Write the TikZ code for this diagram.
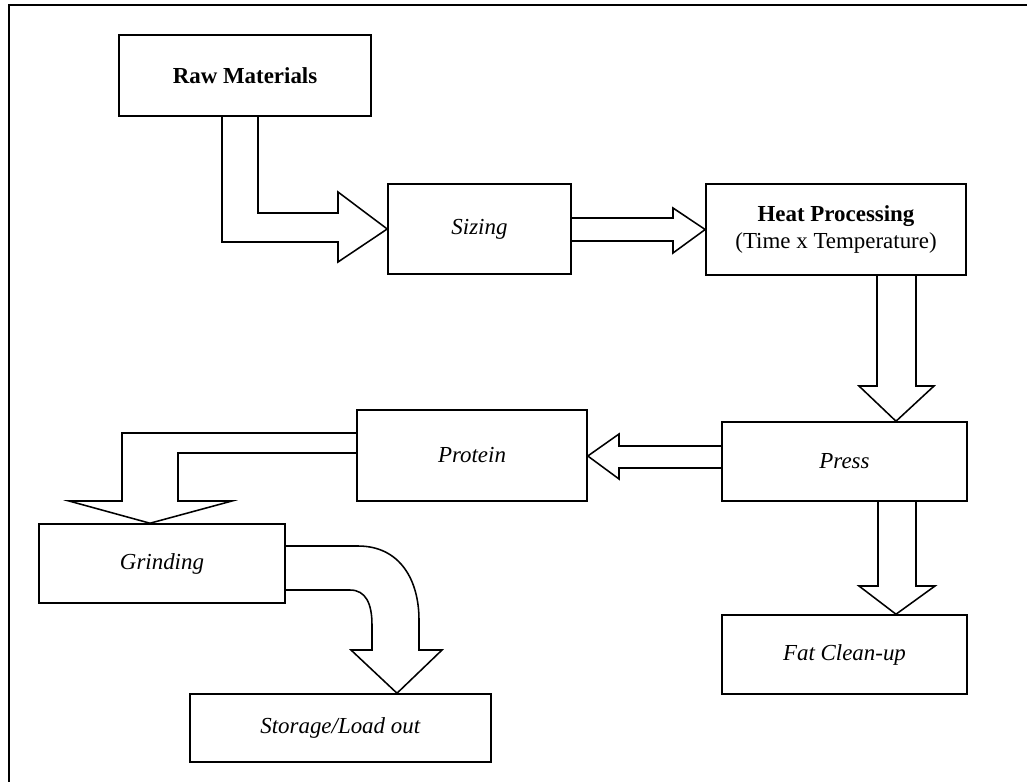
\documentclass[tikz,border=0pt]{standalone}
\usepackage{fontspec}
\setmainfont{Liberation Serif}
\usepackage{tikz}

\tikzset{
  box/.style={draw, line width=1.1pt, align=center, inner sep=0pt,
    font=\fontsize{16.3pt}{19.5pt}\selectfont},
  blockarrow/.style={draw, line width=1.1pt, line join=miter}
}

\begin{document}
\begin{tikzpicture}[x=0.025cm, y=-0.025cm]
  \useasboundingbox (0,0) rectangle (1027,782);
  \draw [line width=1.6pt] (9,782) -- (9,5) -- (1027,5);

  % process steps
  \node[box, minimum width=6.3cm, minimum height=2.025cm] (raw) at (245,75.5) {\textbf{Raw Materials}};
  \node[box, minimum width=4.575cm, minimum height=2.25cm] (sizing) at (479.5,229) {\textit{Sizing}};
  \node[box, minimum width=6.5cm, minimum height=2.275cm] (heat) at (836,229.5) {\textbf{Heat Processing}\\(Time x Temperature)};
  \node[box, minimum width=6.125cm, minimum height=1.975cm] (press) at (844.5,461.5) {\textit{Press}};
  \node[box, minimum width=6.125cm, minimum height=1.975cm] (fat) at (844.5,654.5) {\textit{Fat Clean-up}};
  \node[box, minimum width=5.75cm, minimum height=2.275cm] (protein) at (472,455.5) {\textit{Protein}};
  \node[box, minimum width=6.15cm, minimum height=1.975cm] (grinding) at (162,563.5) {\textit{Grinding}};
  \node[box, minimum width=7.525cm, minimum height=1.7cm] (storage) at (340.5,728) {\textit{Storage/Load out}};

  % block arrows
  \draw [blockarrow] (raw.south -| 222,0) -- (222,242) -- (338,242) -- (338,262)
    -- (sizing.west) -- (338,192) -- (338,213) -- (258,213) -- (raw.south -| 258,0);
  \draw [blockarrow] (sizing.east |- 0,218) -- (673,218) -- (673,208) -- (heat.west)
    -- (673,253) -- (673,241) -- (sizing.east |- 0,241);
  \draw [blockarrow] (heat.south -| 877,0) -- (877,386) -- (859,386) -- (press.north -| 896,0)
    -- (934,386) -- (916,386) -- (heat.south -| 916,0);
  \draw [blockarrow] (press.west |- 0,446) -- (619,446) -- (619,434) -- (protein.east |- 0,456)
    -- (619,479) -- (619,468) -- (press.west |- 0,468);
  \draw [blockarrow] (press.south -| 878,0) -- (878,586) -- (859,586) -- (fat.north -| 896,0)
    -- (935,586) -- (916,586) -- (press.south -| 916,0);
  \draw [blockarrow] (protein.west |- 0,433) -- (122,433) -- (122,501) -- (69,501)
    -- (grinding.north -| 150,0) -- (232,501) -- (178,501) -- (178,453) -- (protein.west |- 0,453);
  \draw [blockarrow] (grinding.east |- 0,546) -- (358,546) .. controls (400,546) and (419,580) .. (419,620)
    -- (419,650) -- (442,650) -- (storage.north -| 397,0) -- (351,650) -- (372,650) -- (372,625)
    .. controls (372,604) and (366,590) .. (350,590) -- (grinding.east |- 0,590);
\end{tikzpicture}
\end{document}
